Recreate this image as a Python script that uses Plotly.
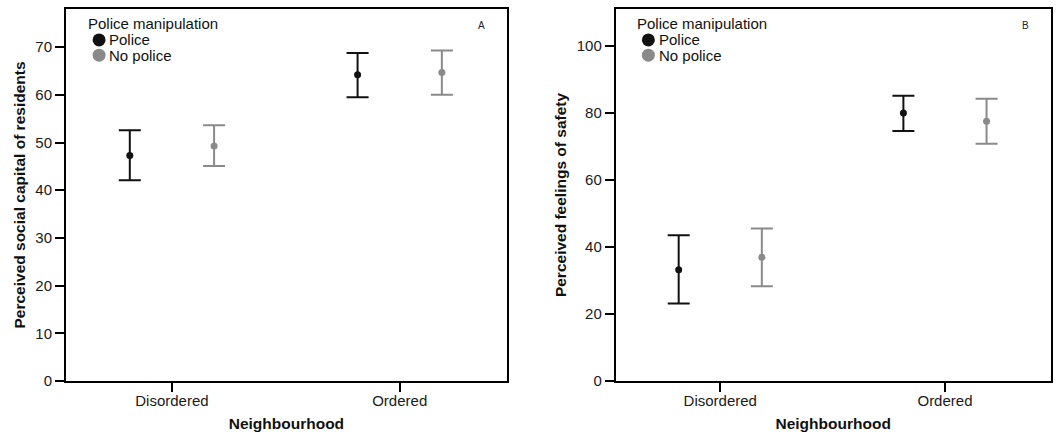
import plotly.graph_objects as go

categories = ["Disordered", "Ordered"]
groups = ["Police", "No police"]

# Panel A: perceived social capital of residents
a_police_mean = [47.3, 64.2]
a_police_hi = [52.6, 68.8]
a_police_lo = [42.1, 59.5]
a_nopolice_mean = [49.3, 64.7]
a_nopolice_hi = [53.6, 69.3]
a_nopolice_lo = [45.1, 60.0]

# Panel B: perceived feelings of safety
b_police_mean = [33.2, 80.0]
b_police_hi = [43.5, 85.1]
b_police_lo = [23.1, 74.6]
b_nopolice_mean = [36.9, 77.5]
b_nopolice_hi = [45.5, 84.2]
b_nopolice_lo = [28.3, 70.8]

a_ticks = [0, 10, 20, 30, 40, 50, 60, 70]
b_ticks = [0, 20, 40, 60, 80, 100]

BLACK = "#111111"
GREY = "#8a8a8a"
FONT = "Liberation Sans, Arial, sans-serif"
OFFSET = 0.185

fig = go.Figure()


def add_series(name, mean, hi, lo, color, shift, xa, ya):
    xs = [i + shift for i in range(len(mean))]
    fig.add_trace(go.Scatter(
        x=xs, y=mean, mode="markers", xaxis=xa, yaxis=ya, showlegend=False, name=name,
        marker=dict(color=color, size=7),
        error_y=dict(type="data", symmetric=False,
                     array=[h - m for h, m in zip(hi, mean)],
                     arrayminus=[m - l for m, l in zip(mean, lo)],
                     color=color, thickness=2, width=11)))


add_series(groups[0], a_police_mean, a_police_hi, a_police_lo, BLACK, -OFFSET, "x", "y")
add_series(groups[1], a_nopolice_mean, a_nopolice_hi, a_nopolice_lo, GREY, OFFSET, "x", "y")
add_series(groups[0], b_police_mean, b_police_hi, b_police_lo, BLACK, -OFFSET, "x2", "y2")
add_series(groups[1], b_nopolice_mean, b_nopolice_hi, b_nopolice_lo, GREY, OFFSET, "x2", "y2")

axis_common = dict(showgrid=False, zeroline=False, showline=True, linecolor="black",
                   linewidth=2, mirror=True, ticks="outside", tickcolor="black",
                   tickwidth=2, ticklen=9, automargin=False,
                   tickfont=dict(family=FONT, size=15, color="#1a1a1a"))

x_common = dict(axis_common, tickmode="array", tickvals=[0, 1], ticktext=categories,
                range=[-0.465, 1.47], ticklabelstandoff=-4,
                title=dict(text="<b>Neighbourhood</b>", standoff=10,
                           font=dict(family=FONT, size=15.5, color="#111")))

# manual compact legends (title + two entries) inside each panel
annotations = []
shapes = []
for xd, yd, letter in [("x domain", "y domain", "A"), ("x2 domain", "y2 domain", "B")]:
    annotations.append(dict(text="Police manipulation", xref=xd, yref=yd, x=0.045, y=0.960,
                            xanchor="left", yanchor="middle", showarrow=False,
                            font=dict(family=FONT, size=15, color="#111")))
    for name, col, yy in zip(groups, [BLACK, GREY], [0.917, 0.876]):
        annotations.append(dict(text=name, xref=xd, yref=yd, x=0.094, y=yy,
                                xanchor="left", yanchor="middle", showarrow=False,
                                font=dict(family=FONT, size=15, color="#111")))
        shapes.append(dict(type="circle", xref=xd, yref=yd, xsizemode="pixel",
                           ysizemode="pixel", xanchor=0.075, yanchor=yy,
                           x0=-6.5, x1=6.5, y0=-6.5, y1=6.5,
                           fillcolor=col, line=dict(width=0)))
    annotations.append(dict(text=letter, xref=xd, yref=yd, x=0.943, y=0.955,
                            xanchor="center", yanchor="middle", showarrow=False,
                            font=dict(family=FONT, size=10, color="#222")))

fig.update_layout(
    width=1058, height=434,
    paper_bgcolor="white", plot_bgcolor="white",
    margin=dict(l=0, r=0, t=9, b=53),
    font=dict(family=FONT, size=15, color="#111"),
    showlegend=False,
    xaxis=dict(x_common, domain=[0.0624, 0.479], anchor="y"),
    xaxis2=dict(x_common, domain=[0.582, 0.993], anchor="y2"),
    yaxis=dict(axis_common, domain=[0, 1], anchor="x", range=[0, 78],
               tickmode="array", tickvals=a_ticks,
               title=dict(text="<b>Perceived social capital of residents</b>", standoff=6,
                          font=dict(family=FONT, size=15.5, color="#111"))),
    yaxis2=dict(axis_common, domain=[0, 1], anchor="x2", range=[0, 111],
                tickmode="array", tickvals=b_ticks,
                title=dict(text="<b>Perceived feelings of safety</b>", standoff=6,
                           font=dict(family=FONT, size=15.5, color="#111"))),
    annotations=annotations,
    shapes=shapes,
)

fig.write_html("out.html", config={"displayModeBar": False},
               post_script="document.body.style.margin='0';")
